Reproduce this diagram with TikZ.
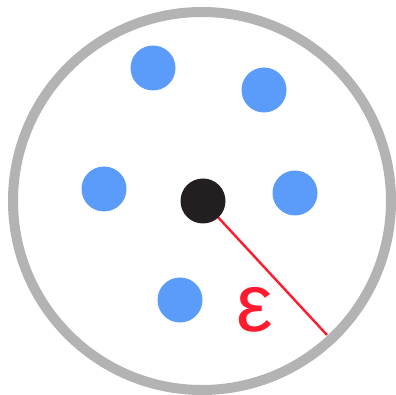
\documentclass[tikz,border=0pt]{standalone}
\usepackage{fontspec}
\usepackage{xcolor}
\usepackage{tikz}
\usetikzlibrary{positioning}
\newfontfamily\epsfont{Liberation Sans}
\definecolor{RingGray}{HTML}{B3B3B3}
\definecolor{PointBlue}{HTML}{5B9CFA}
\definecolor{PointInk}{HTML}{231F20}
\definecolor{RadiusRed}{HTML}{FF1A2E}

\begin{document}
\begin{tikzpicture}[x=1pt,y=1pt,
    pt/.style={circle,fill=PointBlue,minimum size=45pt,inner sep=0pt},
    centerpt/.style={pt,fill=PointInk}]
  \useasboundingbox (0,0) rectangle (396,395);
  \node[circle,draw=RingGray,line width=10pt,minimum size=378pt,inner sep=0pt,outer sep=0pt] (ring) at (202,194) {};
  \node[pt] (p1) at (153,327) {};
  \node[pt] (p2) at (264,305) {};
  \node[pt] (p3) at (104,206) {};
  \node[pt] (p4) at (295,202) {};
  \node[pt] (p5) at (180,95) {};
  \coordinate (rim) at (327,60);
  \draw[RadiusRed,line width=2.4pt] (203,194) -- (rim);
  \node[centerpt] (x) at (203,194) {};
  \node[text=RadiusRed,inner sep=0pt,font=\epsfont\fontsize{82}{82}\selectfont] (eps) at (255,85) {ε};
\end{tikzpicture}
\end{document}
